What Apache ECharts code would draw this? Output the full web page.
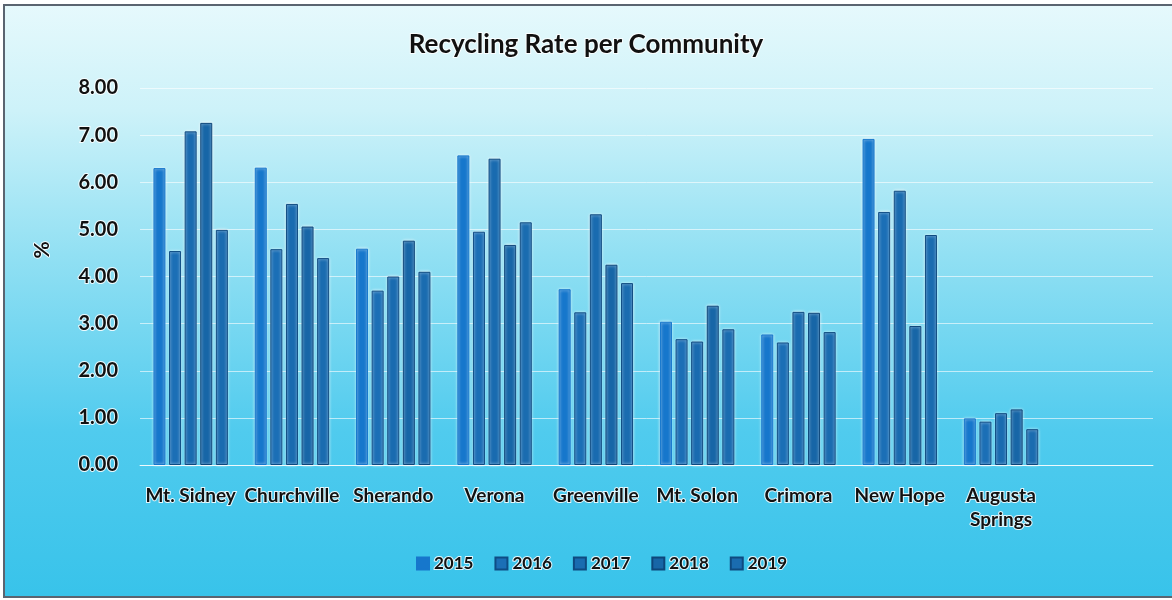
<!DOCTYPE html>
<html>
<head>
<meta charset="utf-8">
<title>Recycling Rate per Community</title>
<script src="https://cdn.jsdelivr.net/npm/echarts@6/dist/echarts.min.js"></script>
<style>
  html, body { margin: 0; padding: 0; background: #ffffff; }
  #chart { width: 1172px; height: 600px; }
</style>
</head>
<body>
<div id="chart"></div>
<script>
// Communities (the trailing blank slot keeps the plot width the same as the source workbook)
const communities = ['Mt. Sidney', 'Churchville', 'Sherando', 'Verona', 'Greenville', 'Mt. Solon', 'Crimora', 'New Hope', 'Augusta\nSprings', ''];
const years = ['2015', '2016', '2017', '2018', '2019'];

// Recycling rate (%) per community, one array per year
const rate2015 = [6.30, 6.31, 4.59, 6.57, 3.73, 3.04, 2.77, 6.92, 0.99, null];
const rate2016 = [4.54, 4.58, 3.70, 4.95, 3.24, 2.67, 2.60, 5.37, 0.92, null];
const rate2017 = [7.08, 5.54, 4.00, 6.50, 5.32, 2.62, 3.25, 5.82, 1.10, null];
const rate2018 = [7.26, 5.06, 4.76, 4.67, 4.25, 3.38, 3.23, 2.95, 1.18, null];
const rate2019 = [4.99, 4.39, 4.10, 5.15, 3.86, 2.88, 2.82, 4.88, 0.76, null];

// Value axis ticks
const yMin = 0, yMax = 8, yStep = 1;

const rates = [rate2015, rate2016, rate2017, rate2018, rate2019];
const barColors = ['#1677cc', '#1b6fb6', '#196bb0', '#1766a7', '#1a6cb0'];
const barBorders = ['#1677cc', '#0e4c84', '#0e4a80', '#0d467a', '#0e4a80'];

const labelFont = 'Lato, "Open Sans", sans-serif';
const halo = { textBorderColor: 'rgba(255,255,255,0.85)', textBorderWidth: 2 };

const chart = echarts.init(document.getElementById('chart'), null, { renderer: 'canvas' });

chart.setOption({
  backgroundColor: '#ffffff',
  animation: false,
  graphic: [{
    type: 'rect',
    z: -100,
    silent: true,
    shape: { x: 4, y: 5, width: 1180, height: 592 },
    style: {
      fill: new echarts.graphic.LinearGradient(0, 0, 0, 1, [
        { offset: 0, color: '#e6f9fc' },
        { offset: 0.18, color: '#cdf2f9' },
        { offset: 0.42, color: '#92e0f3' },
        { offset: 0.72, color: '#50cbee' },
        { offset: 1, color: '#38c3ea' }
      ]),
      stroke: '#5a6470',
      lineWidth: 2
    }
  }, {
    // value-axis title
    type: 'text',
    silent: true,
    x: 42,
    y: 250,
    rotation: Math.PI / 2,
    style: {
      text: '%',
      align: 'center',
      verticalAlign: 'middle',
      fontFamily: labelFont,
      fontWeight: 'bold',
      fontSize: 21,
      fill: '#111111',
      stroke: 'rgba(255,255,255,0.85)',
      lineWidth: 2
    }
  }],
  title: {
    text: 'Recycling Rate per Community',
    left: 'center',
    top: 27,
    textStyle: {
      fontFamily: labelFont,
      fontWeight: 'bold',
      fontSize: 26,
      color: '#111111',
      ...halo
    }
  },
  legend: {
    bottom: 22,
    left: 411,
    itemWidth: 12,
    itemHeight: 12,
    itemGap: 20,
    icon: 'rect',
    data: years,
    textStyle: {
      fontFamily: labelFont,
      fontWeight: 'bold',
      fontSize: 17,
      color: '#111111',
      ...halo
    }
  },
  grid: {
    left: 140,
    right: 19,
    top: 88,
    bottom: 135
  },
  xAxis: {
    type: 'category',
    data: communities,
    axisLine: { show: true, lineStyle: { color: 'rgba(255,255,255,0.75)', width: 1 } },
    axisTick: { show: false },
    axisLabel: {
      interval: 0,
      margin: 19,
      fontFamily: labelFont,
      fontWeight: 'bold',
      fontSize: 19,
      lineHeight: 24,
      color: '#111111',
      ...halo
    }
  },
  yAxis: {
    type: 'value',
    min: yMin,
    max: yMax,
    interval: yStep,
    axisLine: { show: false },
    axisTick: { show: false },
    splitLine: { lineStyle: { color: 'rgba(255,255,255,0.6)', width: 1 } },
    axisLabel: {
      margin: 22,
      formatter: v => v.toFixed(2),
      fontFamily: labelFont,
      fontWeight: 'bold',
      fontSize: 20,
      color: '#111111',
      ...halo
    }
  },
  series: years.map((y, i) => ({
    name: y,
    type: 'bar',
    data: rates[i],
    barWidth: 12,
    barGap: '30%',
    itemStyle: {
      color: barColors[i],
      borderColor: barBorders[i],
      borderWidth: 1,
      shadowColor: 'rgba(255,255,255,0.8)',
      shadowBlur: 3
    }
  }))
});
</script>
</body>
</html>
